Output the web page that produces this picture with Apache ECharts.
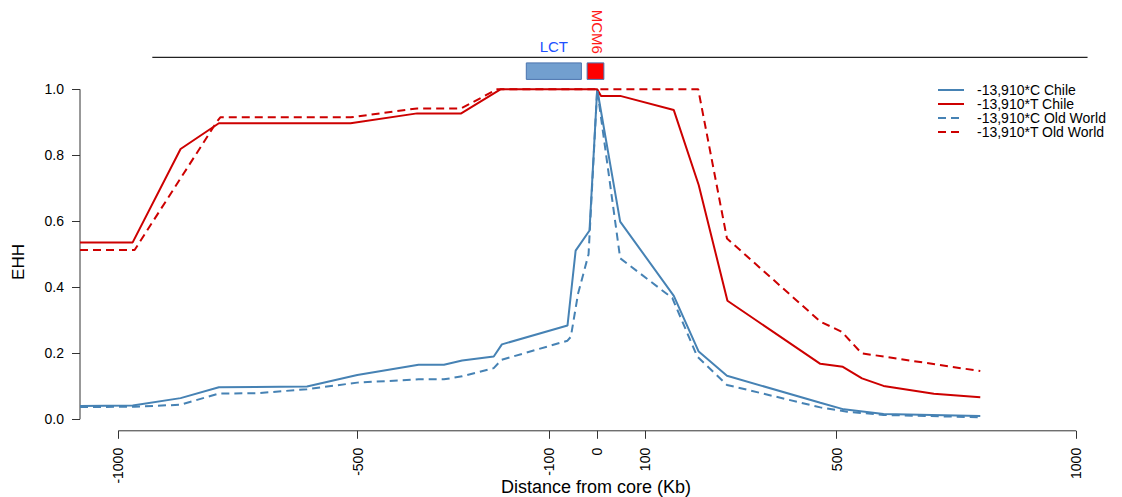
<!DOCTYPE html>
<html>
<head>
<meta charset="utf-8">
<script src="https://cdn.jsdelivr.net/npm/echarts@6/dist/echarts.min.js"></script>
<style>
html,body{margin:0;padding:0;background:#fff;}
#chart{width:1122px;height:497px;}
</style>
</head>
<body>
<div id="chart"></div>
<script>
// ---- data ----
const seriesNames = ['-13,910*C Chile', '-13,910*T Chile', '-13,910*C Old World', '-13,910*T Old World'];

const cChileKb  = [-1080,-970,-870,-790,-606,-501,-373,-320,-282,-216,-199,-62,-45,-16,0,48,160,212,271,466,515,598,800];
const cChileEhh = [0.040,0.042,0.064,0.097,0.099,0.134,0.165,0.165,0.178,0.190,0.227,0.284,0.511,0.572,1.0,0.599,0.374,0.205,0.132,0.050,0.030,0.016,0.010];

const tChileKb  = [-1080,-970,-870,-790,-515,-376,-284,-202,0,8,48,160,212,272,466,513,553,598,703,800];
const tChileEhh = [0.536,0.536,0.819,0.897,0.897,0.927,0.927,1.0,1.0,0.980,0.980,0.937,0.710,0.359,0.168,0.159,0.124,0.101,0.077,0.067];

const cOldKb  = [-1080,-966,-870,-790,-710,-606,-501,-373,-320,-282,-216,-200,-62,-55,-40,-18,0,48,157,209,271,466,522,598,800];
const cOldEhh = [0.037,0.038,0.044,0.078,0.079,0.091,0.111,0.121,0.121,0.130,0.155,0.180,0.238,0.250,0.380,0.500,1.0,0.488,0.367,0.190,0.104,0.036,0.023,0.013,0.006];

const tOldKb  = [-1080,-966,-794,-787,-515,-376,-284,-209,211,271,466,511,552,800];
const tOldEhh = [0.513,0.513,0.902,0.915,0.915,0.942,0.942,1.0,1.0,0.548,0.296,0.265,0.200,0.146];

const xTickValues = [-1000,-500,-100,0,100,500,1000];
const yTickValues = [0,0.2,0.4,0.6,0.8,1.0];

const geneNames   = ['LCT','MCM6'];
const geneStartKb = [-148,-21];
const geneEndKb   = [-33,14];

const trackKb = [-929, 1024];

// ---- layout constants ----
const X_MIN = -1080, X_MAX = 1050;
const Y_MIN = -0.035, Y_MAX = 1.25;
const TRACK_Y = 1.097;
const BOX_BOTTOM = 1.030, BOX_TOP = 1.080;

const BLUE = '#4682B4';
const RED = '#CD0000';
const FONT = '"Liberation Sans", Arial, Helvetica, sans-serif';

function zip(xs, ys){ return xs.map((x,i)=>[x, ys[i]]); }

const chart = echarts.init(document.getElementById('chart'), null, {renderer:'svg'});

function dataLine(name, xs, ys, color, dashed){
  return {
    name: name, type:'line', data: zip(xs, ys),
    symbol:'none', showSymbol:false, animation:false, clip:false,
    lineStyle:{color: color, width: 2, type: dashed ? [8,5] : 'solid'},
    itemStyle:{color: color},
    z: 3
  };
}

const option = {
  backgroundColor:'#fff',
  animation:false,
  grid:{left:80, right:22, top:6.8, bottom:66.2, containLabel:false},
  xAxis:{
    type:'value', min:X_MIN, max:X_MAX,
    axisLine:{show:false, onZero:false},
    splitLine:{show:false},
    axisTick:{show:true, length:8, customValues:xTickValues, lineStyle:{color:'#333', width:1}},
    axisLabel:{show:true, customValues:xTickValues, rotate:90, margin:17,
      formatter: v => String(v),
      fontFamily:FONT, fontSize:14, color:'#000'}
  },
  yAxis:{
    type:'value', min:Y_MIN, max:Y_MAX,
    axisLine:{show:false, onZero:false},
    splitLine:{show:false},
    axisTick:{show:true, length:8, customValues:yTickValues, lineStyle:{color:'#333', width:1}},
    axisLabel:{show:true, customValues:yTickValues, margin:16,
      formatter: v => Number(v).toFixed(1),
      fontFamily:FONT, fontSize:14, color:'#000'}
  },
  legend:{
    show:true, orient:'vertical', left:937, top:83, padding:0,
    data: seriesNames,
    itemWidth:26, itemHeight:14, itemGap:0,
    itemStyle:{color:'rgba(0,0,0,0)', borderWidth:0, opacity:0},
    textStyle:{fontFamily:FONT, fontSize:14, color:'#000', lineHeight:14, padding:[0,0,0,8]},
    selectedMode:false
  },
  graphic:[
    {type:'text', x:18, y:262, rotation:Math.PI/2,
     style:{text:'EHH', font:'17px '+FONT, fill:'#000', align:'center', verticalAlign:'middle', textAlign:'center', textVerticalAlign:'middle'}},
    {type:'text', x:596, y:487,
     style:{text:'Distance from core (Kb)', font:'18px '+FONT, fill:'#000', align:'center', verticalAlign:'middle', textAlign:'center', textVerticalAlign:'middle'}}
  ],
  series:[
    dataLine(seriesNames[0], cChileKb, cChileEhh, BLUE, false),
    dataLine(seriesNames[1], tChileKb, tChileEhh, RED, false),
    dataLine(seriesNames[2], cOldKb, cOldEhh, BLUE, true),
    dataLine(seriesNames[3], tOldKb, tOldEhh, RED, true),
    // x axis line (spans first to last tick)
    {name:'xaxisline', type:'line', symbol:'none', silent:true, clip:false, animation:false,
     data:[[xTickValues[0], Y_MIN],[xTickValues[xTickValues.length-1], Y_MIN]],
     lineStyle:{color:'#333', width:1}, z:2},
    // y axis line (spans first to last tick)
    {name:'yaxisline', type:'line', symbol:'none', silent:true, clip:false, animation:false,
     data:[[X_MIN, yTickValues[0]],[X_MIN, yTickValues[yTickValues.length-1]]],
     lineStyle:{color:'#333', width:1}, z:2},
    // gene track line
    {name:'track', type:'line', symbol:'none', silent:true, clip:false, animation:false,
     data:[[trackKb[0], TRACK_Y],[trackKb[1], TRACK_Y]],
     lineStyle:{color:'#222', width:1.2}, z:2},
    // gene boxes and labels
    {name:'genes', type:'custom', silent:true, clip:false, animation:false,
     data: geneNames.map((n,i)=>[geneStartKb[i], geneEndKb[i], i]),
     renderItem: function(params, api){
       const i = api.value(2);
       const p0 = api.coord([api.value(0), BOX_TOP]);
       const p1 = api.coord([api.value(1), BOX_BOTTOM]);
       const cx = (p0[0]+p1[0])/2;
       const fill = i === 0 ? '#729FCF' : '#FF0000';
       const labelColor = i === 0 ? '#2050FF' : '#FF1A1A';
       const children = [
         {type:'rect', shape:{x:p0[0], y:p0[1], width:p1[0]-p0[0], height:p1[1]-p0[1]},
          style:{fill: fill, stroke:'#4A74AE', lineWidth:1}}
       ];
       if (i === 0) {
         children.push({type:'text', x:cx, y:p0[1]-9,
           style:{text:geneNames[i], font:'15px '+FONT, fill:labelColor,
             align:'center', verticalAlign:'bottom', textAlign:'center', textVerticalAlign:'bottom'}});
       } else {
         children.push({type:'text', x:cx+1.5, y:p0[1]-9, rotation:-Math.PI/2,
           style:{text:geneNames[i], font:'15px '+FONT, fill:labelColor,
             align:'right', verticalAlign:'middle', textAlign:'right', textVerticalAlign:'middle'}});
       }
       return {type:'group', children: children};
     }, z:4}
  ]
};
chart.setOption(option);
</script>
</body>
</html>
